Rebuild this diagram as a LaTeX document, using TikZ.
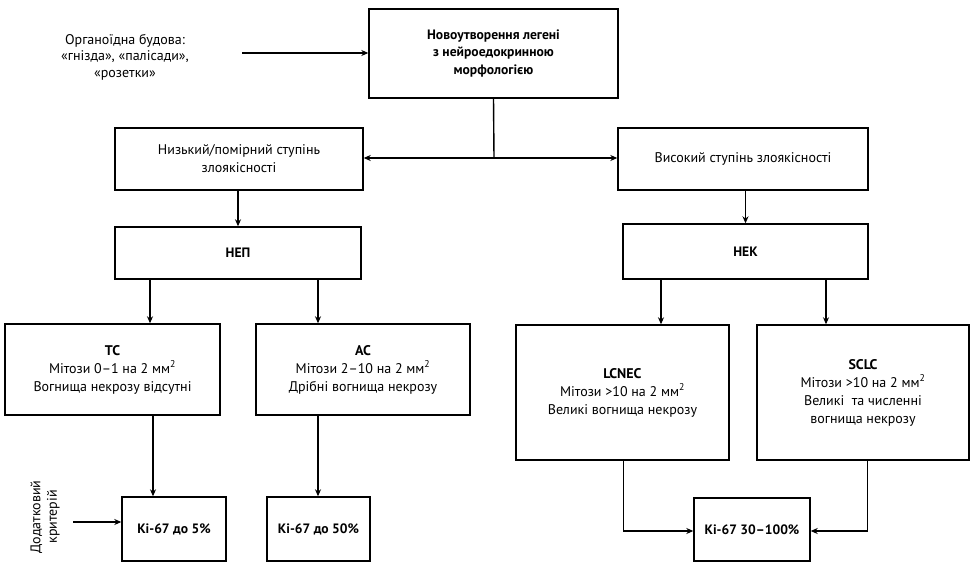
\documentclass[tikz,border=0pt]{standalone}
\usepackage{fontspec}
\setmainfont{PT Sans}
\usetikzlibrary{arrows.meta}
\begin{document}
\begin{tikzpicture}[x=1pt,y=-1pt,
  box/.style={draw,line width=1.4pt,align=center,inner sep=0pt,font=\fontsize{14}{18}\selectfont},
  bx/.style={font=\fontsize{13.6}{17.5}\selectfont\bfseries},
  plain/.style={align=center,inner sep=0pt,font=\fontsize{14}{16.5}\selectfont},
  arr/.style={line width=1.4pt,-{Stealth[length=7pt,width=6pt]}},
  ln/.style={line width=1.4pt}]
\useasboundingbox (0,0) rectangle (976,577);
% boxes
\node[box,bx,minimum width=249pt,minimum height=89pt] (top) at (493.5,53.5) {Новоутворення легені\\з нейроедокринною\\морфологією};
\node[box,minimum width=248pt,minimum height=62pt] (low) at (239,159) {Низький/помірний ступінь\\злоякісності};
\node[box,minimum width=250pt,minimum height=62pt] (high) at (743,159) {Високий ступінь злоякісності};
\node[box,bx,minimum width=246pt,minimum height=52pt] (nep) at (238,253) {НЕП};
\node[box,bx,minimum width=245pt,minimum height=55pt] (nek) at (745.5,251.5) {НЕК};
\node[box,minimum width=215pt,minimum height=91pt] (tc) at (112.5,369.5) {\textbf{TC}\\Мітози 0–1 на 2 мм\textsuperscript{2}\\Вогнища некрозу відсутні};
\node[box,minimum width=214pt,minimum height=91pt] (ac) at (363,369.5) {\textbf{AC}\\Мітози 2–10 на 2 мм\textsuperscript{2}\\Дрібні вогнища некрозу};
\node[box,minimum width=213pt,minimum height=135pt] (lcnec) at (622.5,392.5) {\textbf{LCNEC}\\Мітози >10 на 2 мм\textsuperscript{2}\\Великі вогнища некрозу};
\node[box,minimum width=212pt,minimum height=135pt] (sclc) at (863,392.5) {\textbf{SCLC}\\Мітози >10 на 2 мм\textsuperscript{2}\\Великі\ \ та численні\\вогнища некрозу};
\node[box,bx,minimum width=104pt,minimum height=64pt] (ki5) at (174,529) {Кі-67 до 5\%};
\node[box,bx,minimum width=103pt,minimum height=64pt] (ki50) at (318.5,529) {Кі-67 до 50\%};
\node[box,bx,minimum width=116pt,minimum height=63pt] (ki30) at (752,529.5) {Кі-67 30–100\%};
% free texts
\node[plain] (org) at (125,57) {Органоїдна будова:\\«гнізда», «палісади»,\\«розетки»};
\node[plain,rotate=90] (dod) at (45,517) {Додатковий\\критерій};
% coordinates
\coordinate (a1) at (242,53);
\coordinate (a2) at (73,522);
\coordinate (j) at (494,158);
\coordinate (x1) at (150,0);
\coordinate (x2) at (318,0);
\coordinate (x3) at (153,0);
\coordinate (x4) at (661,0);
\coordinate (x5) at (826,0);
\coordinate (x6) at (623.5,0);
\coordinate (x7) at (867.5,0);
\coordinate (y1) at (0,531);
% connectors
\draw[arr] (a1) -- (top.west |- a1);
\draw[arr] (a2) -- (ki5.west |- a2);
\draw[ln] (top.south) -- (j);
\draw[arr] (j) -- (low.east |- j);
\draw[arr] (j) -- (high.west |- j);
\draw[arr] (low.south -| nep.north) -- (nep.north);
\draw[arr] (high.south -| nek.north) -- (nek.north);
\draw[arr] (nep.south -| x1) -- (tc.north -| x1);
\draw[arr] (nep.south -| x2) -- (ac.north -| x2);
\draw[arr] (tc.south -| x3) -- (ki5.north -| x3);
\draw[arr] (ac.south -| x2) -- (ki50.north -| x2);
\draw[arr] (nek.south -| x4) -- (lcnec.north -| x4);
\draw[arr] (nek.south -| x5) -- (sclc.north -| x5);
\draw[arr] (lcnec.south -| x6) |- (ki30.west |- y1);
\draw[arr] (sclc.south -| x7) |- (ki30.east |- y1);
\end{tikzpicture}
\end{document}
